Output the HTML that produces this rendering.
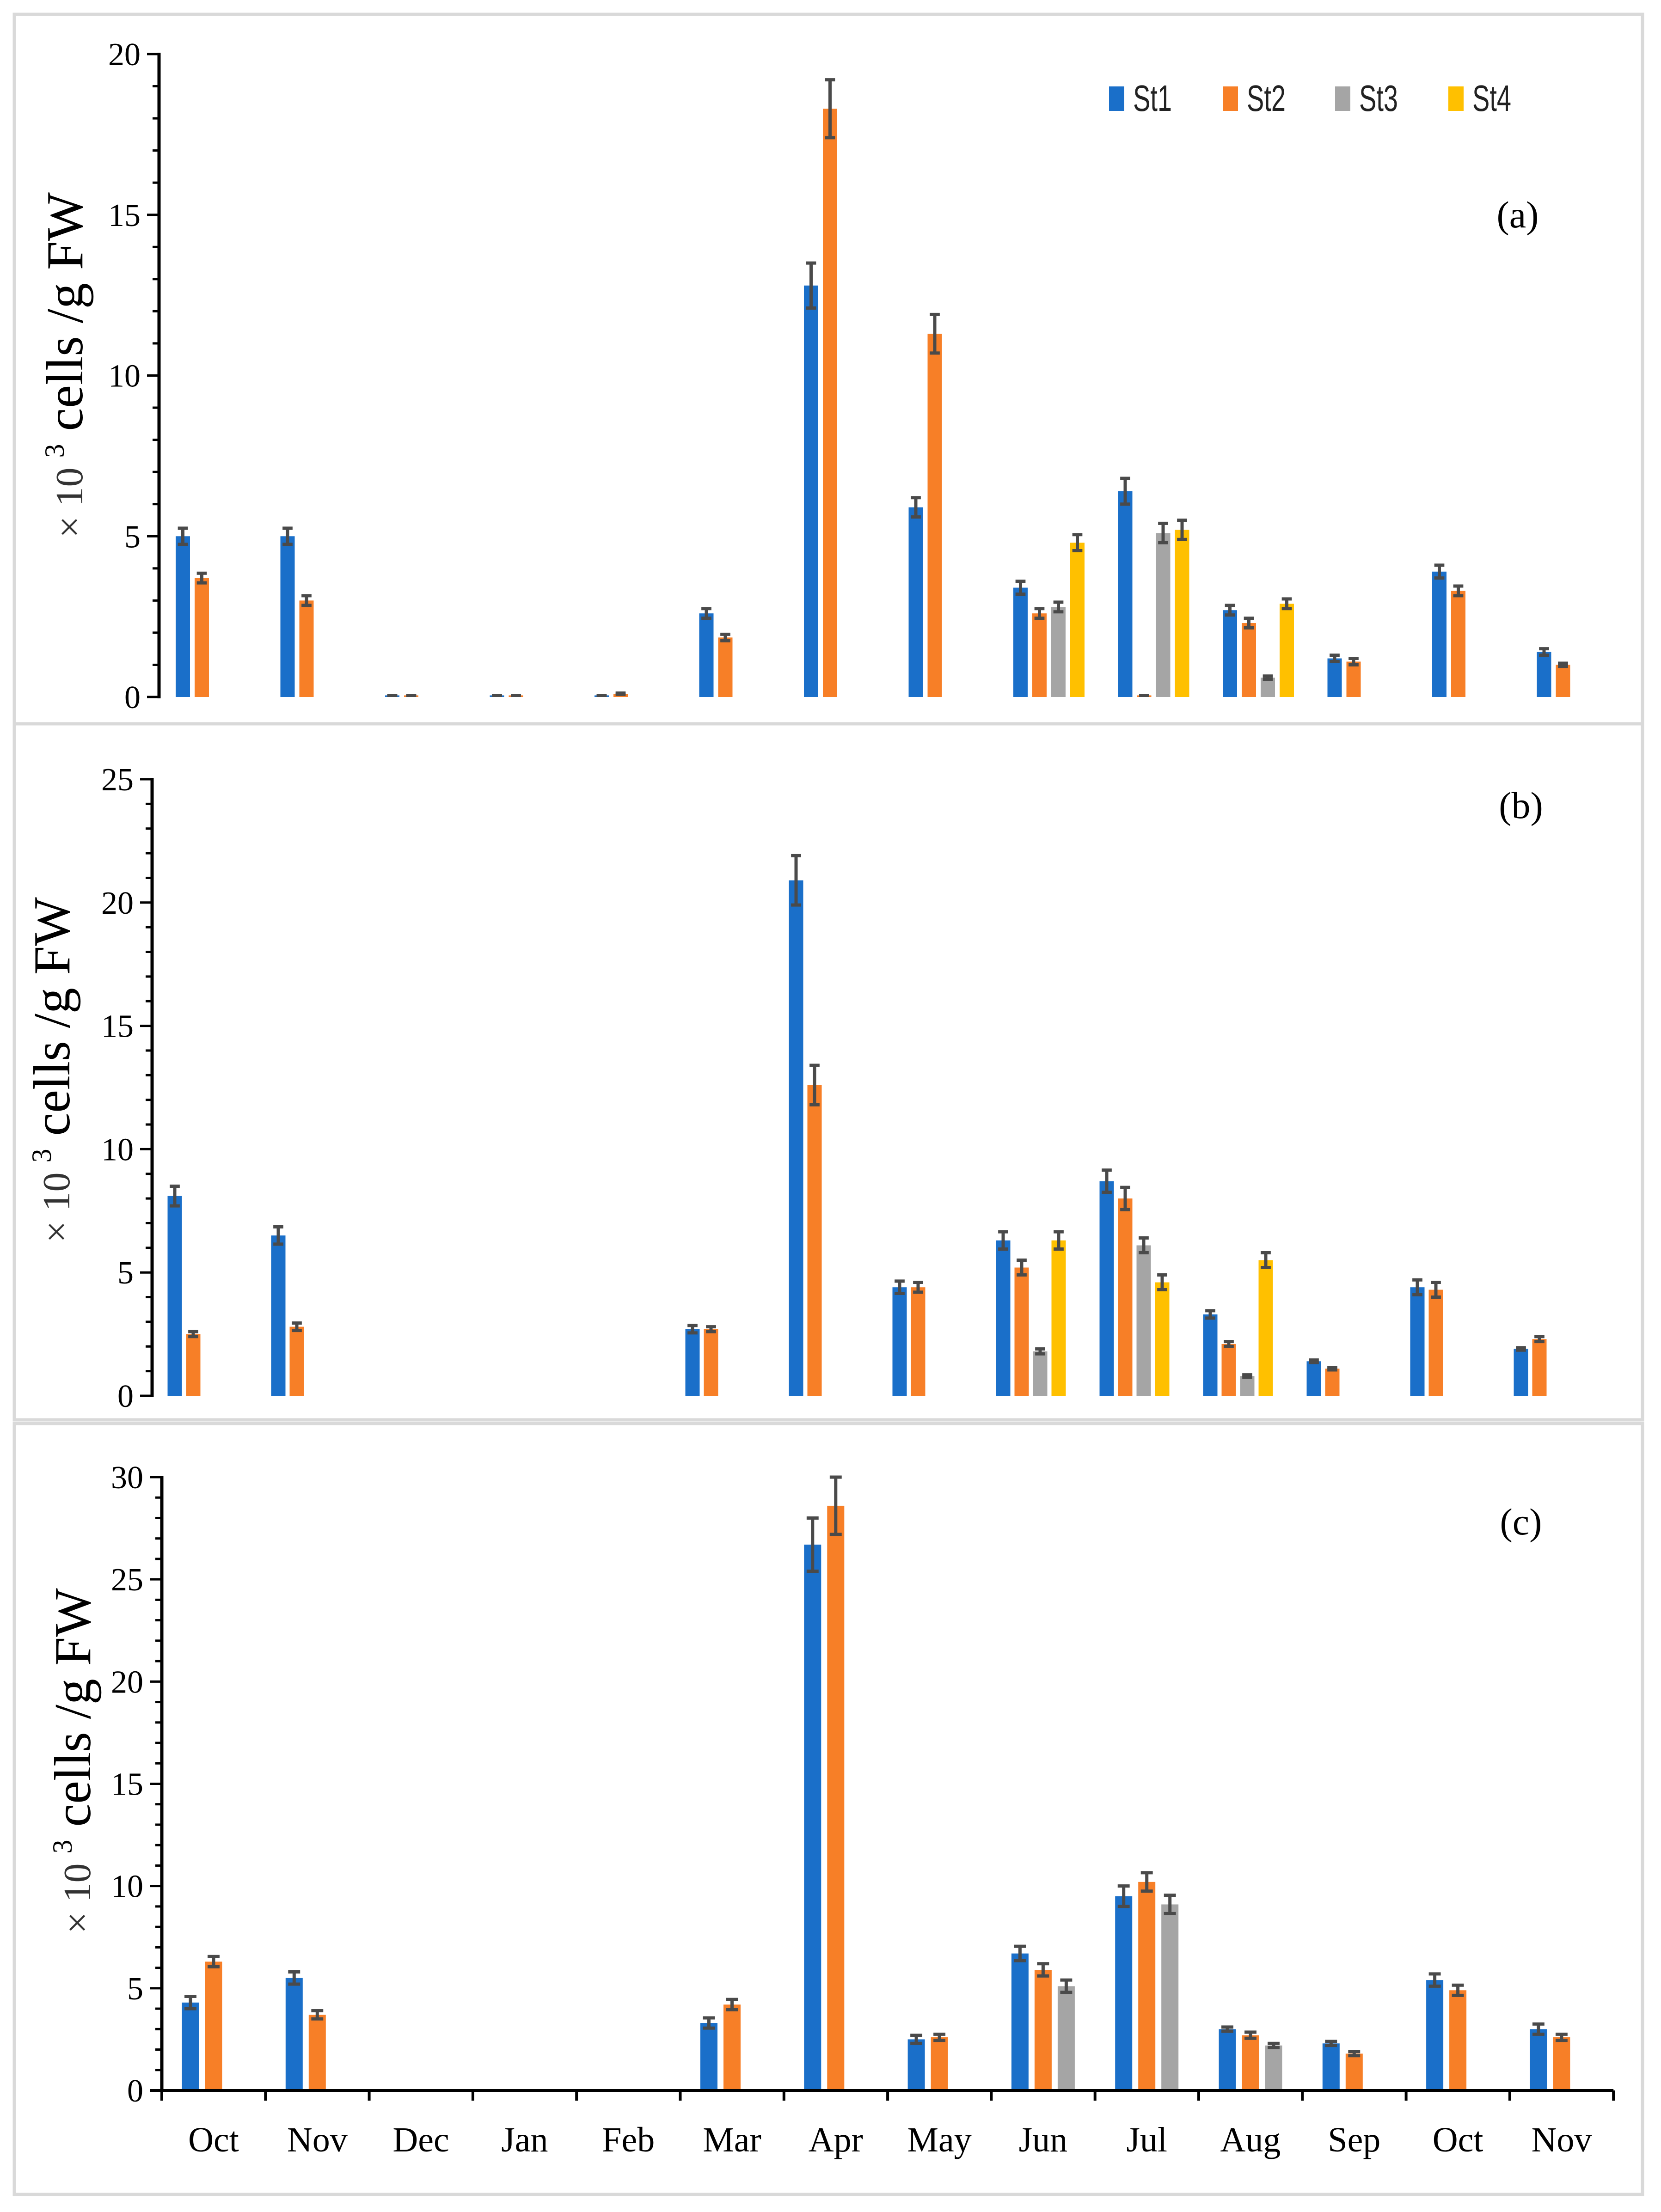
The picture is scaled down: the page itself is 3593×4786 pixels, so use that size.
<!DOCTYPE html>
<html><head><meta charset="utf-8"><style>
html,body{margin:0;padding:0;background:#fff;}
svg{display:block;}
</style></head><body>
<svg id="chart" xmlns="http://www.w3.org/2000/svg" width="3593" height="4786" viewBox="0 0 3593 4786">
<rect x="0" y="0" width="3593" height="4786" fill="#fff"/>
</svg>
<script>
const months = ["Oct","Nov","Dec","Jan","Feb","Mar","Apr","May","Jun","Jul","Aug","Sep","Oct","Nov"];
const seriesNames = ["St1","St2","St3","St4"];
const seriesColors = ["#1a6fc9","#f77f27","#a5a5a5","#ffc000"];

// Panel (a)
const aSt1 = [5.0,5.0,0.05,0.05,0.05,2.6,12.8,5.9,3.4,6.4,2.7,1.2,3.9,1.4];
const aSt2 = [3.7,3.0,0.05,0.05,0.1,1.85,18.3,11.3,2.6,0.05,2.3,1.1,3.3,1.0];
const aSt3 = [null,null,null,null,null,null,null,null,2.8,5.1,0.6,null,null,null];
const aSt4 = [null,null,null,null,null,null,null,null,4.8,5.2,2.9,null,null,null];
const aErr1 = [0.25,0.25,0,0,0,0.15,0.7,0.3,0.2,0.4,0.15,0.1,0.2,0.1];
const aErr2 = [0.15,0.15,0,0,0.02,0.1,0.9,0.6,0.15,0,0.15,0.1,0.15,0.05];
const aErr3 = [0,0,0,0,0,0,0,0,0.15,0.3,0.05,0,0,0];
const aErr4 = [0,0,0,0,0,0,0,0,0.25,0.3,0.15,0,0,0];
const aTicks = [0,5,10,15,20];

// Panel (b)
const bSt1 = [8.1,6.5,null,null,null,2.7,20.9,4.4,6.3,8.7,3.3,1.4,4.4,1.9];
const bSt2 = [2.5,2.8,null,null,null,2.7,12.6,4.4,5.2,8.0,2.1,1.1,4.3,2.3];
const bSt3 = [null,null,null,null,null,null,null,null,1.8,6.1,0.8,null,null,null];
const bSt4 = [null,null,null,null,null,null,null,null,6.3,4.6,5.5,null,null,null];
const bErr1 = [0.4,0.35,0,0,0,0.15,1.0,0.25,0.35,0.45,0.15,0.05,0.3,0.05];
const bErr2 = [0.1,0.15,0,0,0,0.1,0.8,0.2,0.3,0.45,0.1,0.05,0.3,0.1];
const bErr3 = [0,0,0,0,0,0,0,0,0.1,0.3,0.05,0,0,0];
const bErr4 = [0,0,0,0,0,0,0,0,0.35,0.3,0.3,0,0,0];
const bTicks = [0,5,10,15,20,25];

// Panel (c)
const cSt1 = [4.3,5.5,null,null,null,3.3,26.7,2.5,6.7,9.5,3.0,2.3,5.4,3.0];
const cSt2 = [6.3,3.7,null,null,null,4.2,28.6,2.6,5.9,10.2,2.7,1.8,4.9,2.6];
const cSt3 = [null,null,null,null,null,null,null,null,5.1,9.1,2.2,null,null,null];
const cErr1 = [0.3,0.3,0,0,0,0.25,1.3,0.2,0.35,0.5,0.1,0.1,0.3,0.25];
const cErr2 = [0.25,0.2,0,0,0,0.25,1.4,0.15,0.3,0.45,0.15,0.1,0.25,0.15];
const cErr3 = [0,0,0,0,0,0,0,0,0.3,0.45,0.1,0,0,0];
const cTicks = [0,5,10,15,20,25,30];

const NS = "http://www.w3.org/2000/svg";
const svg = document.getElementById("chart");
function mk(tag, attrs, parent){
  const e = document.createElementNS(NS, tag);
  for (const k in attrs) e.setAttribute(k, attrs[k]);
  (parent||svg).appendChild(e);
  return e;
}

function drawPanel(cfg){
  const g = mk("g", {});
  
  
  const border = mk("rect", {x:cfg.box[0], y:cfg.box[1], width:cfg.box[2], height:cfg.box[3], fill:"none", stroke:"#d9d9d9", "stroke-width":7}, g);
  
  
  const yMax = cfg.ticks[cfg.ticks.length-1];
  const yScale = v => cfg.y0 - (v / yMax) * (cfg.y0 - cfg.yTop);
  const xCenter = i => cfg.first + i * cfg.step;
  const yAxis = mk("g", {}, g);
  
  
  mk("line", {x1:cfg.ax, y1:yScale(0)+3, x2:cfg.ax, y2:yScale(yMax)-3, stroke:"#000", "stroke-width":7}, yAxis);
  for (let v = 0; v <= yMax; v++){
    const major = cfg.ticks.indexOf(v) >= 0;
    mk("line", {x1:cfg.ax - (major?26:14), y1:yScale(v), x2:cfg.ax, y2:yScale(v), stroke:"#000", "stroke-width":5}, yAxis);
  }
  cfg.ticks.forEach(v => {
    const t = mk("text", {x:cfg.ax - 40, y:yScale(v) + 24, "text-anchor":"end", "font-family":"Liberation Serif, serif", "font-size":70, fill:"#000"}, yAxis);
    t.textContent = v;
    
    
  });
  const tt = mk("text", {transform:`translate(${cfg.titleX},${cfg.titleY}) rotate(-90)`, "text-anchor":"middle", "font-family":"Liberation Serif, serif", "font-size":112, fill:"#000"}, g);
  
  
  const t1 = mk("tspan", {"font-size":84, fill:"#333"}, tt); t1.textContent = "× 10 ";
  const t2 = mk("tspan", {"font-size":60, dy:-40}, tt); t2.textContent = "3";
  const t3 = mk("tspan", {dy:40}, tt); t3.textContent = "  cells /g FW";
  const n = cfg.series.length;
  cfg.series.forEach((vals, s) => {
    const off = (s - (n - 1) / 2) * cfg.barStep;
    vals.forEach((v, i) => {
      if (v === null) return;
      const cx = xCenter(i) + off;
      const y = yScale(v);
      const r = mk("rect", {x:cx - cfg.barW/2, y:y, width:cfg.barW, height:Math.max(cfg.y0 - y, 0), fill:seriesColors[s]}, g);
      
      
      const e = cfg.errs[s][i];
      const eg = mk("g", {stroke:"#4a4a4a", "stroke-width":7}, g);
      
      
      const hw = cfg.barW * 0.35;
      mk("line", {x1:cx, y1:yScale(v + e), x2:cx, y2:yScale(v - e)}, eg);
      mk("line", {x1:cx - hw, y1:yScale(v + e), x2:cx + hw, y2:yScale(v + e)}, eg);
      mk("line", {x1:cx - hw, y1:yScale(v - e), x2:cx + hw, y2:yScale(v - e)}, eg);
    });
  });
  if (cfg.xAxis){
    const xa = mk("g", {}, g);
    
    
    const xEnd = cfg.ax + months.length * cfg.step;
    mk("line", {x1:cfg.ax - 26, y1:cfg.y0, x2:xEnd, y2:cfg.y0, stroke:"#000", "stroke-width":6}, xa);
    for (let i = 0; i <= months.length; i++){
      mk("line", {x1:cfg.ax + i*cfg.step, y1:cfg.y0, x2:cfg.ax + i*cfg.step, y2:cfg.y0 + 22, stroke:"#000", "stroke-width":6}, xa);
    }
    months.forEach((m, i) => {
      const t = mk("text", {x:xCenter(i), y:cfg.y0 + 132, "text-anchor":"middle", "font-family":"Liberation Serif, serif", "font-size":76, fill:"#000"}, xa);
      t.textContent = m;
      
      
    });
  }
  const pl = mk("text", {x:cfg.label[0], y:cfg.label[1], "text-anchor":"middle", "font-family":"Liberation Serif, serif", "font-size":82, fill:"#000"}, g);
  pl.textContent = "(" + cfg.id + ")";
  
  
}

drawPanel({id:"a", box:[31,31,3522,1535], ax:344, y0:1508, yTop:117, ticks:aTicks,
  first:457, step:226.5, barW:31, barStep:41,
  series:[aSt1,aSt2,aSt3,aSt4], errs:[aErr1,aErr2,aErr3,aErr4],
  titleX:178, titleY:790, label:[3283,492], xAxis:false});
drawPanel({id:"b", box:[31,1566,3522,1506], ax:329, y0:3020, yTop:1686, ticks:bTicks,
  first:438, step:224, barW:31, barStep:40,
  series:[bSt1,bSt2,bSt3,bSt4], errs:[bErr1,bErr2,bErr3,bErr4],
  titleX:150, titleY:2315, label:[3290,1770], xAxis:false});
drawPanel({id:"c", box:[31,3080,3522,1668], ax:350, y0:4523, yTop:3196, ticks:cTicks,
  first:462, step:224.3, barW:37, barStep:50,
  series:[cSt1,cSt2,cSt3], errs:[cErr1,cErr2,cErr3],
  titleX:195, titleY:3810, label:[3290,3320], xAxis:true});

const leg = mk("g", {});


const legX = [2399, 2645, 2888, 3133];
seriesNames.forEach((nm, s) => {
  const it = mk("g", {}, leg);
  
  
  mk("rect", {x:legX[s], y:187, width:33, height:53, fill:seriesColors[s]}, it);
  const t = mk("text", {x:legX[s] + 52, y:240, "font-family":"Liberation Sans, sans-serif", "font-size":80, fill:"#222", textLength:84, lengthAdjust:"spacingAndGlyphs"}, it);
  t.textContent = nm;
});
</script>
</body></html>
